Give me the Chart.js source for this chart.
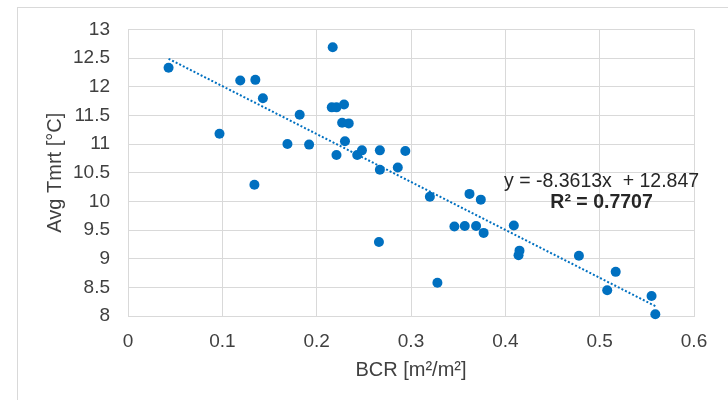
<!DOCTYPE html>
<html>
<head>
<meta charset="utf-8">
<script src="https://cdn.jsdelivr.net/npm/chart.js@4/dist/chart.umd.min.js"></script>
<style>
  html, body { margin: 0; padding: 0; background: #ffffff; }
  canvas { display: block; }
</style>
</head>
<body>
<canvas id="chart" width="728" height="400"></canvas>
<script>
// Building coverage ratio per site
const bcr = [0.043, 0.119, 0.135, 0.143, 0.182, 0.097, 0.169, 0.192, 0.134, 0.217,
             0.216, 0.221, 0.229, 0.227, 0.234, 0.230, 0.221, 0.243, 0.248, 0.267,
             0.294, 0.267, 0.286, 0.320, 0.362, 0.374, 0.346, 0.357, 0.369, 0.377,
             0.409, 0.266, 0.328, 0.415, 0.414, 0.478, 0.517, 0.508, 0.555, 0.559];
// Average mean radiant temperature per site
const tmrt = [12.33, 12.11, 12.12, 11.80, 11.51, 11.18, 11.00, 10.99, 10.29, 12.69,
              11.64, 11.64, 11.69, 11.37, 11.36, 11.05, 10.81, 10.81, 10.89, 10.89,
              10.88, 10.55, 10.59, 10.08, 10.13, 10.03, 9.56, 9.57, 9.57, 9.45,
              9.58, 9.29, 8.58, 9.14, 9.06, 9.05, 8.77, 8.45, 8.35, 8.03];

// Linear fit as reported
const slope = -8.3613;
const intercept = 12.847;
const rSquared = 0.7707;

const xTicks = [0, 0.1, 0.2, 0.3, 0.4, 0.5, 0.6];
const yTicks = [8, 8.5, 9, 9.5, 10, 10.5, 11, 11.5, 12, 12.5, 13];

const points = bcr.map((x, i) => ({ x: x, y: tmrt[i] }));
const xMin = Math.min(...bcr);
const xMax = Math.max(...bcr);
const trend = [xMin, xMax].map(x => ({ x: x, y: slope * x + intercept }));

const FONT = '"Liberation Sans", Arial, sans-serif';
const BLUE = '#0070C0';
const GRID = '#d9d9d9';
const TEXT = '#404040';

// Light frame around the chart area
const framePlugin = {
  id: 'frame',
  beforeDraw(chart) {
    const ctx = chart.ctx;
    ctx.save();
    ctx.strokeStyle = GRID;
    ctx.lineWidth = 1;
    ctx.strokeRect(17.5, 7.5, 800, 500);
    ctx.restore();
  }
};

// Trendline equation and R² label
const equationPlugin = {
  id: 'equation',
  afterDatasetsDraw(chart) {
    const ctx = chart.ctx;
    const xs = chart.scales.x, ys = chart.scales.y;
    const cx = xs.getPixelForValue(0.502);
    ctx.save();
    ctx.fillStyle = '#262626';
    ctx.textAlign = 'center';
    ctx.textBaseline = 'middle';
    ctx.font = '19.5px ' + FONT;
    ctx.fillText('y = ' + slope + 'x  + ' + intercept, cx, ys.getPixelForValue(10.35));
    ctx.font = 'bold 19.5px ' + FONT;
    ctx.fillText('R² = ' + rSquared, cx, ys.getPixelForValue(9.97));
    ctx.restore();
  }
};

new Chart(document.getElementById('chart'), {
  type: 'scatter',
  data: {
    datasets: [
      {
        type: 'line',
        label: 'Linear fit',
        data: trend,
        borderColor: BLUE,
        borderWidth: 2,
        borderDash: [2, 2],
        pointRadius: 0,
        fill: false,
        order: 0
      },
      {
        label: 'Avg Tmrt',
        data: points,
        backgroundColor: BLUE,
        borderColor: BLUE,
        borderWidth: 0,
        pointRadius: 5,
        clip: false,
        order: 1
      }
    ]
  },
  options: {
    responsive: false,
    animation: false,
    events: [],
    layout: { padding: { top: 29, right: 34, left: 0, bottom: 0 } },
    plugins: {
      legend: { display: false },
      tooltip: { enabled: false }
    },
    scales: {
      x: {
        type: 'linear',
        min: 0,
        max: 0.6,
        afterBuildTicks: s => { s.ticks = xTicks.map(v => ({ value: v })); },
        afterFit: s => { s.height = 84; },
        ticks: {
          callback: v => String(v),
          color: TEXT,
          font: { family: FONT, size: 19 },
          padding: 14,
          maxRotation: 0
        },
        grid: { color: GRID, lineWidth: 1, drawTicks: false },
        border: { color: GRID, width: 1 },
        title: {
          display: true,
          text: 'BCR [m²/m²]',
          color: TEXT,
          font: { family: FONT, size: 20 },
          padding: { top: 0, bottom: 18 }
        }
      },
      y: {
        type: 'linear',
        min: 8,
        max: 13,
        afterBuildTicks: s => { s.ticks = yTicks.map(v => ({ value: v })); },
        afterFit: s => { s.width = 128; },
        ticks: {
          callback: v => String(v),
          color: TEXT,
          font: { family: FONT, size: 19 },
          padding: 18
        },
        grid: { color: GRID, lineWidth: 1, drawTicks: false },
        border: { color: GRID, width: 1 },
        title: {
          display: true,
          text: 'Avg Tmrt [°C]',
          color: TEXT,
          font: { family: FONT, size: 20 },
          padding: { top: 43, bottom: 0 }
        }
      }
    }
  },
  plugins: [framePlugin, equationPlugin]
});
</script>
</body>
</html>
